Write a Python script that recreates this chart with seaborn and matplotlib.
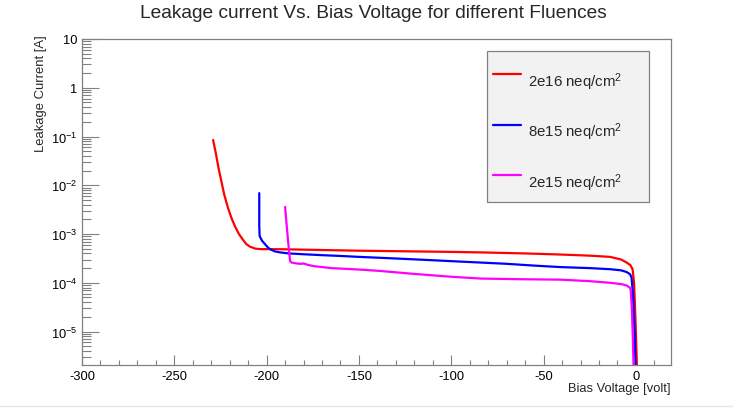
import numpy as np
import pandas as pd
import matplotlib
matplotlib.use("Agg")
import matplotlib.pyplot as plt
import matplotlib.ticker as mticker
from matplotlib.lines import Line2D
from matplotlib.patches import Rectangle
import seaborn as sns

# Data (bias voltage [V], leakage current [A])
v_2e16 = [-229, -227.5, -226, -224.5, -223, -221, -219, -217, -215, -213, -211, -209, -206,
          -203, -200, -192, -170, -150, -120, -100, -84, -60, -41, -25, -14, -8, -5, -3,
          -1.8, -1.0, -0.3, 0.4, 0.7]
i_2e16 = [0.085, 0.045, 0.022, 0.012, 0.0065, 0.0035, 0.0021, 0.0014, 0.001, 0.00078, 0.00062,
          0.00055, 0.0005, 0.00049, 0.00049, 0.000488, 0.00047, 0.000455, 0.00044, 0.00043,
          0.00042, 0.0004, 0.00038, 0.00036, 0.00034, 0.0003, 0.00026, 0.00023, 0.00019,
          0.0001, 2e-5, 3e-6, 1e-6]

v_8e15 = [-204, -204, -203.8, -202.5, -200.9, -199.5, -198.2, -195.5, -192.7, -188, -180, -171,
          -160, -150, -130, -110, -95, -84, -70, -55, -41, -25, -14, -8, -5, -3.2, -2.4, -1.6,
          -0.8, 0]
i_8e15 = [6.9e-3, 1.5e-3, 9.1e-4, 7.3e-4, 6.2e-4, 5.4e-4, 4.9e-4, 4.4e-4, 4.2e-4, 4.0e-4,
          3.85e-4, 3.7e-4, 3.55e-4, 3.4e-4, 3.15e-4, 2.9e-4, 2.72e-4, 2.6e-4, 2.45e-4, 2.25e-4,
          2.1e-4, 2.0e-4, 1.9e-4, 1.8e-4, 1.66e-4, 1.5e-4, 1.3e-4, 6e-5, 1.2e-5, 1e-6]

v_2e15 = [-190, -189.2, -188.5, -187.8, -187.3, -186.5, -184, -181.9, -180.8, -180, -178,
          -174.7, -165, -150, -138.6, -120, -100, -84, -60, -41, -25, -14, -8, -5, -3.2, -2.8,
          -2.2, -1.6, -1.1]
i_2e15 = [3.6e-3, 1.6e-3, 8e-4, 4.2e-4, 2.8e-4, 2.6e-4, 2.5e-4, 2.45e-4, 2.45e-4, 2.5e-4,
          2.35e-4, 2.2e-4, 2.0e-4, 1.87e-4, 1.75e-4, 1.52e-4, 1.33e-4, 1.22e-4, 1.18e-4,
          1.16e-4, 1.08e-4, 1.0e-4, 9.4e-5, 8.8e-5, 7.9e-5, 7e-5, 3e-5, 6e-6, 1e-6]

fluences = ["2e16 neq/cm$^2$", "8e15 neq/cm$^2$", "2e15 neq/cm$^2$"]
colors = ["#ff0000", "#0000ff", "#ff00ff"]

sns.set_style("ticks")
plt.rcParams["font.family"] = ["Liberation Sans", "DejaVu Sans"]
plt.rcParams["mathtext.fontset"] = "custom"
plt.rcParams["mathtext.rm"] = "Liberation Sans"
plt.rcParams["mathtext.it"] = "Liberation Sans:italic"
plt.rcParams["mathtext.default"] = "regular"
plt.rcParams["axes.unicode_minus"] = False

fig = plt.figure(figsize=(7.33, 4.10), dpi=100)
ax = fig.add_axes([82 / 733, 1 - 366 / 410, 589 / 733, 326 / 410])

series = [(v_2e16, i_2e16), (v_8e15, i_8e15), (v_2e15, i_2e15)]
for (v, i), lab, c in zip(series, fluences, colors):
    df = pd.DataFrame({"V": v, "I": i})
    sns.lineplot(data=df, x="V", y="I", sort=False, estimator=None,
                 color=c, linewidth=1.6, ax=ax)

ax.set_yscale("log")
ax.set_xlim(-300, 19)
ax.set_ylim(2.06e-6, 10)

ax.xaxis.set_major_locator(mticker.MultipleLocator(50))
ax.xaxis.set_minor_locator(mticker.MultipleLocator(10))
ax.set_yticks([1e-5, 1e-4, 1e-3, 1e-2, 1e-1, 1, 10],
              [r"$10^{-5}$", r"$10^{-4}$", r"$10^{-3}$", r"$10^{-2}$", r"$10^{-1}$", "1", "10"])
ax.yaxis.set_minor_locator(mticker.LogLocator(base=10, subs=np.arange(2, 10), numticks=20))
ax.yaxis.set_minor_formatter(mticker.NullFormatter())

gray = "#808080"
for s in ax.spines.values():
    s.set_color(gray)
    s.set_linewidth(0.9)
ax.tick_params(axis="both", which="both", direction="in", colors=gray,
               labelcolor="black", top=False, right=False, labelsize=9.3)
ax.tick_params(axis="x", which="major", length=7, width=0.8, pad=3.4)
ax.tick_params(axis="x", which="minor", length=3.6, width=0.8)
ax.tick_params(axis="y", which="major", length=12.5, width=0.8, pad=3.6)
ax.tick_params(axis="y", which="minor", length=6.5, width=0.8)

ax.set_xlabel("Bias Voltage [volt]", fontsize=9.3, loc="right")
ax.xaxis.set_label_coords(1.0, -0.052)
ax.set_ylabel("Leakage Current [A]", fontsize=9.4, loc="top")
ax.yaxis.set_label_coords(-0.059, 1.015)

fig.text(0.5096, 1 - 13 / 410, "Leakage current Vs. Bias Voltage for different Fluences",
         ha="center", va="center", fontsize=13.8)

# ROOT-style legend box
ax.add_patch(Rectangle((0.6876, 0.5), 0.275, 0.4632, transform=ax.transAxes,
                       facecolor="#f2f2f2", edgecolor=gray, linewidth=0.9, zorder=5))
line_y = [0.8926, 0.7362, 0.5828]
text_y = [0.8567, 0.7018, 0.5469]
for lab, c, ly, ty in zip(fluences, colors, line_y, text_y):
    ax.add_line(Line2D([0.6973, 0.7453], [ly, ly], transform=ax.transAxes,
                       color=c, linewidth=1.6, zorder=6))
    ax.text(0.7567, ty, lab, transform=ax.transAxes, fontsize=10.8,
            va="baseline", ha="left", zorder=6)

fig.add_artist(Line2D([0, 1], [1 - 406.5 / 410] * 2, transform=fig.transFigure,
                      color="#e6e6e6", linewidth=1))

fig.savefig("out.png", dpi=100)
